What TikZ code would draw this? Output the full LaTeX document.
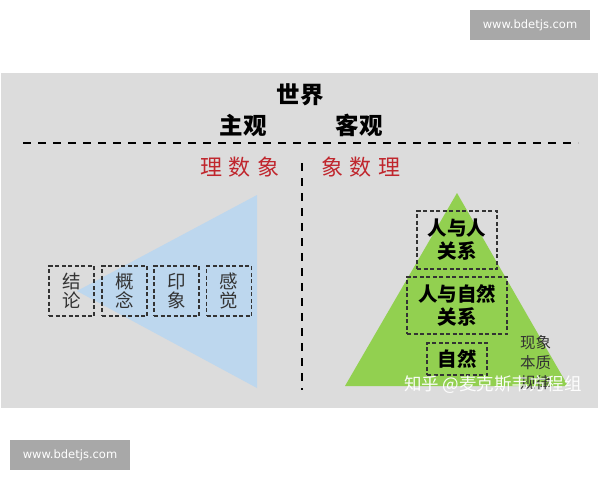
\documentclass[tikz,border=0pt]{standalone}
\usepackage{fontspec}
\setmainfont{Noto Sans CJK SC}
\newfontfamily\wmfont{DejaVu Sans}
\definecolor{panelgray}{HTML}{DCDCDC}
\definecolor{tagray}{HTML}{A8A8A8}
\definecolor{conered}{HTML}{C0262D}
\definecolor{coneblue}{HTML}{BDD7EE}
\definecolor{pyrgreen}{HTML}{92D050}
\definecolor{inkgray}{HTML}{333333}
\tikzset{
  tag/.style={fill=tagray,text=white,font=\wmfont\fontsize{11.5}{12}\selectfont,inner sep=0pt,minimum width=120pt,minimum height=30pt},
  heading/.style={font=\bfseries\fontsize{23.5}{26}\selectfont,text=black,inner sep=0pt},
  redhead/.style={font=\fontsize{22}{24}\selectfont,text=conered,inner sep=0pt},
  sepline/.style={draw=black,line width=2pt,dash pattern=on 8pt off 7pt},
  bluebox/.style={draw=inkgray,line width=1.1pt,dash pattern=on 4pt off 2.5pt,minimum width=45pt,minimum height=50pt,inner sep=0pt,align=center,text=inkgray,font=\fontsize{18.5}{19}\selectfont},
  greenbox/.style={draw=inkgray,line width=1.1pt,dash pattern=on 4pt off 2.5pt,inner sep=0pt,align=center,text=black,font=\bfseries\fontsize{19.5}{23}\selectfont},
  sidetext/.style={text=inkgray,font=\fontsize{15.5}{20}\selectfont,inner sep=0pt,align=left},
  zhihu/.style={text=white,font=\fontsize{17.5}{18}\selectfont,inner sep=0pt,opacity=0.95}
}
\begin{document}
\begin{tikzpicture}[x=1pt,y=-1pt]
\useasboundingbox (0,0) rectangle (600,480);
\fill[white] (0,0) rectangle (600,480);
% watermark tags
\node[tag] (tagtop) at (530,25) {www.bdetjs.com};
\node[tag] (tagbot) at (70,455) {www.bdetjs.com};
% panel
\fill[panelgray] (1,73) rectangle (598,408);
% headings
\node[heading] (world) at (300,95) {世界};
\node[heading] (subj) at (243,125) {主观};
\node[heading] (obj) at (359,125) {客观};
\coordinate (hl) at (23,143);
\coordinate (hr) at (578,143);
\draw[sepline] (hl) -- (hr);
\node[redhead] (redl) at (240,167) {理\hspace{7pt}数\hspace{7pt}象};
\node[redhead] (redr) at (361,167) {象\hspace{7pt}数\hspace{7pt}理};
\coordinate (vt) at (302,163);
\coordinate (vb) at (302,390);
\draw[sepline] (vt) -- (vb);
% blue cone
\coordinate (ba) at (77,291);
\coordinate (bt) at (257,195);
\coordinate (bb) at (257,388);
\fill[coneblue] (ba) -- (bt) -- (bb) -- cycle;
\node[bluebox] (jl) at (71.5,291) {结\\论};
\node[bluebox] (gn) at (124.5,291) {概\\念};
\node[bluebox] (yx) at (176.5,291) {印\\象};
\node[bluebox] (gj) at (229,291) {感\\觉};
% green pyramid
\coordinate (ga) at (457,193);
\coordinate (gl) at (345,386);
\coordinate (gr) at (568,386);
\fill[pyrgreen] (ga) -- (gl) -- (gr) -- cycle;
\node[greenbox,minimum width=80pt,minimum height=58pt] (rr) at (457,240) {人与人\\关系};
\node[greenbox,minimum width=100pt,minimum height=57pt] (rz) at (457,305.5) {人与自然\\关系};
\node[greenbox,minimum width=60pt,minimum height=32pt] (zr) at (457,359) {自然};
\node[sidetext,anchor=west] (xx) at (520,343) {现象};
\node[sidetext,anchor=west] (bz) at (520,363) {本质};
\node[sidetext,anchor=west] (gl2) at (520,383) {规律};
\node[zhihu] (zh) at (493,385) {知乎 @麦克斯韦方程组};
\end{tikzpicture}
\end{document}
